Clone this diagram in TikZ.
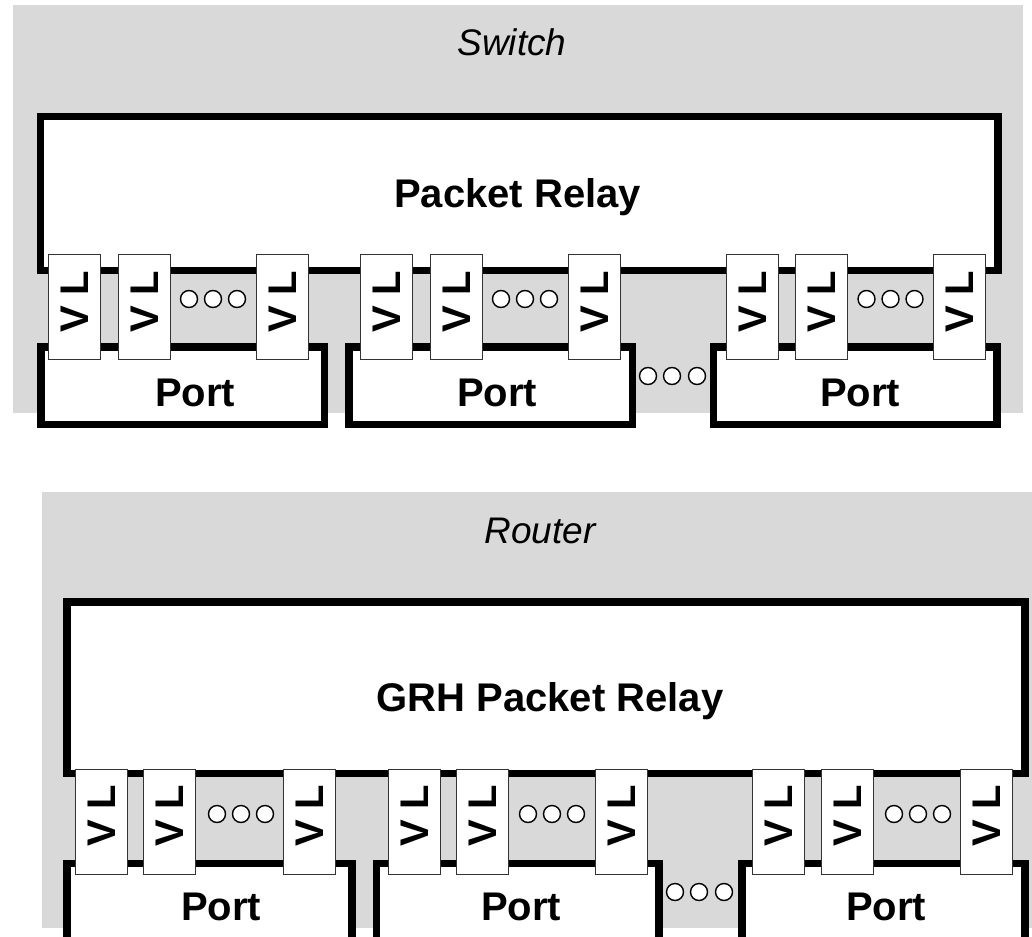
\documentclass[tikz,border=0pt]{standalone}
\usepackage{fontspec}
\setmainfont{Liberation Sans}
\definecolor{bggray}{RGB}{217,217,217}
\begin{document}
\begin{tikzpicture}[x=1pt,y=-1pt,
  panel/.style={fill=bggray,draw=none,inner sep=0pt,rectangle},
  frame/.style={draw=black,line width=7.5pt,fill=white,inner sep=0pt,rectangle},
  vlbox/.style={draw=black!80,line width=1.3pt,fill=white,minimum width=52pt,minimum height=105pt,inner sep=0pt,rectangle},
  vltext/.style={font=\bfseries\fontsize{40}{40}\selectfont,rotate=90,inner sep=0pt},
  dot/.style={circle,draw=black,line width=1.4pt,fill=white,minimum size=17pt,inner sep=0pt},
  title/.style={font=\itshape\fontsize{37}{37}\selectfont,anchor=base,inner sep=0pt},
  label/.style={font=\bfseries\fontsize{40}{40}\selectfont,anchor=base,inner sep=0pt}]

\clip (0,0) rectangle (1032,936);
\fill[white] (0,0) rectangle (1032,936);

% ---------------- Switch ----------------
\node[panel,minimum width=1010pt,minimum height=408pt] (swpanel) at (518,209) {};
\node[title] (swtitle) at (512,56) {Switch};
\node[frame,minimum width=957.5pt,minimum height=154pt] (swrelay) at (519.25,193.5) {};
\node[label] (swrelaytext) at (517.5,207) {Packet Relay};

\node[frame,minimum width=283.5pt,minimum height=77.5pt] (swport1) at (182.75,385.75) {};
\node[frame,minimum width=283.5pt,minimum height=77.5pt] (swport2) at (490.75,385.75) {};
\node[frame,minimum width=283.5pt,minimum height=77.5pt] (swport3) at (855.25,385.75) {};
\node[label] (swportt1) at (195,406) {Port};
\node[label] (swportt2) at (497,406) {Port};
\node[label] (swportt3) at (860,406) {Port};

\foreach \x [count=\i] in {48,118,256,360,430,568,726,795,933} {
  \node[vlbox] (svl\i) at (\x+26.25,307) {};
  \node[vltext] (svlt\i) at (\x+26.25,302) {V\hspace{10pt}L};
}
\foreach \m [count=\i] in {213,525,890.5} {
  \foreach \d [count=\j] in {-24,0,24}
    \node[dot] (sd\i\j) at (\m+\d,299) {};
}
\foreach \x [count=\j] in {648,672,697}
  \node[dot] (sdb\j) at (\x,376) {};

% ---------------- Router ----------------
\node[panel,minimum width=1000pt,minimum height=436pt] (rtpanel) at (542,710) {};
\node[title] (rttitle) at (540,543) {Router};
\node[frame,minimum width=958pt,minimum height=171.5pt] (rtrelay) at (546,687.75) {};
\node[label] (rtrelaytext) at (550,711) {GRH Packet Relay};

\node[frame,minimum width=285pt,minimum height=96.5pt] (rtport1) at (209.5,911.75) {};
\node[frame,minimum width=282.5pt,minimum height=96.5pt] (rtport2) at (517.75,911.75) {};
\node[frame,minimum width=283pt,minimum height=96.5pt] (rtport3) at (883.5,911.75) {};
\node[label] (rtportt1) at (221,920) {Port};
\node[label] (rtportt2) at (521,920) {Port};
\node[label] (rtportt3) at (886,920) {Port};

\foreach \x [count=\i] in {75,143,283,388,456,595,752,821,960} {
  \node[vlbox] (rvl\i) at (\x+26.25,822) {};
  \node[vltext] (rvlt\i) at (\x+26.25,816) {V\hspace{10pt}L};
}
\foreach \m [count=\i] in {241,552,918} {
  \foreach \d [count=\j] in {-24,0,24}
    \node[dot] (rd\i\j) at (\m+\d,814) {};
}
\foreach \x [count=\j] in {675,699,724}
  \node[dot] (rdb\j) at (\x,892) {};
\end{tikzpicture}
\end{document}
